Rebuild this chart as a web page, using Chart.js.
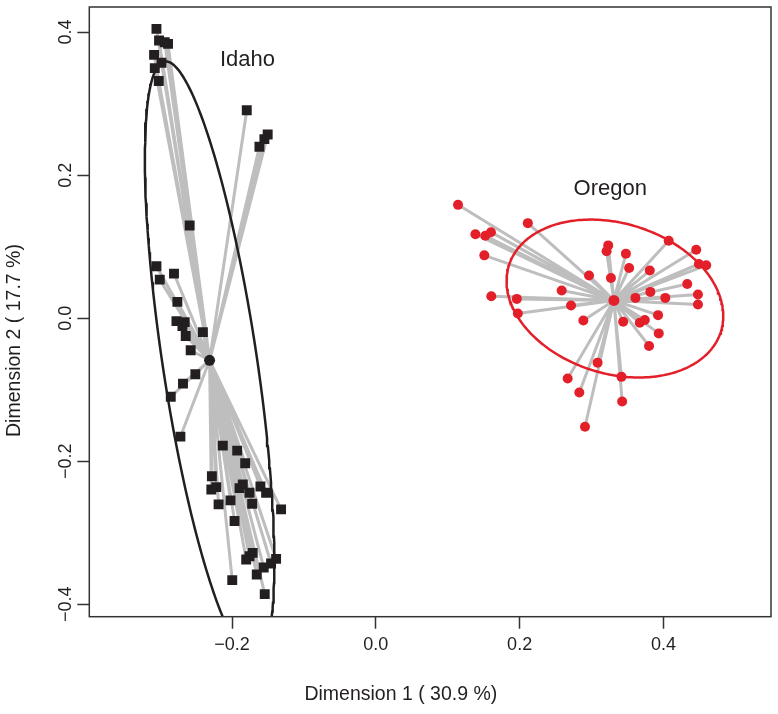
<!DOCTYPE html>
<html><head><meta charset="utf-8">
<script src="https://cdn.jsdelivr.net/npm/chart.js@4/dist/chart.umd.min.js"></script>
<style>html,body{margin:0;padding:0;background:#fff;}</style>
</head><body>
<canvas id="c" width="778" height="714"></canvas>
<script>
// ---- data ----
const idahoX = [-0.3051,-0.3015,-0.2936,-0.2890,-0.3084,-0.2981,-0.3074,-0.3019,-0.1795,-0.1504,-0.1550,-0.1619,-0.2589,-0.3051,-0.2807,-0.3005,-0.2760,-0.2773,-0.2658,-0.2690,-0.2644,-0.2405,-0.2575,-0.2510,-0.2682,-0.2852,-0.2718,-0.2128,-0.1928,-0.1817,-0.2280,-0.2219,-0.2288,-0.1850,-0.1896,-0.1757,-0.1605,-0.1526,-0.2021,-0.2187,-0.1720,-0.1318,-0.1965,-0.1712,-0.1757,-0.1803,-0.1387,-0.1457,-0.1559,-0.1656,-0.1997,-0.1545];
const idahoY = [0.4045,0.3883,0.3859,0.3836,0.3682,0.3571,0.3497,0.3316,0.2908,0.2568,0.2504,0.2397,0.1297,0.0726,0.0624,0.0540,0.0228,-0.0040,-0.0054,-0.0110,-0.0249,-0.0194,-0.0448,-0.0783,-0.0914,-0.1099,-0.1656,-0.1781,-0.1851,-0.2028,-0.2209,-0.2362,-0.2394,-0.2325,-0.2376,-0.2440,-0.2352,-0.2440,-0.2547,-0.2603,-0.2593,-0.2673,-0.2836,-0.3281,-0.3327,-0.3373,-0.3365,-0.3429,-0.3485,-0.3582,-0.3662,-0.3857];
const oregonX = [0.1143,0.2114,0.1385,0.1523,0.1601,0.1509,0.3232,0.3209,0.3478,0.4073,0.4456,0.3523,0.3810,0.4493,0.4595,0.2965,0.3270,0.4331,0.2585,0.3818,0.4480,0.1606,0.1961,0.3611,0.4026,0.4480,0.2715,0.1975,0.3925,0.2886,0.3440,0.3671,0.3741,0.3935,0.3800,0.3084,0.3416,0.2668,0.2830,0.3426,0.2909];
const oregonY = [0.1585,0.1329,0.1175,0.1153,0.1203,0.0879,0.1018,0.0935,0.0903,0.1084,0.0958,0.0702,0.0666,0.0758,0.0740,0.0596,0.0563,0.0479,0.0387,0.0368,0.0331,0.0308,0.0270,0.0284,0.0284,0.0192,0.0178,0.0067,0.0043,-0.0031,-0.0050,-0.0064,-0.0026,-0.0212,-0.0389,-0.0621,-0.0820,-0.0844,-0.1039,-0.1164,-0.1517];
const idahoCentroid = [-0.2312, -0.0588];
const oregonCentroid = [0.3311, 0.0249];
// ellipse: [centerX, centerY, semiMajor, semiMinor, angleDeg]
const idahoEllipse = [-0.2312, -0.0588, 0.4224, 0.0656, 98.5];
const oregonEllipse = [0.3325, 0.0275, 0.1545, 0.1050, -17.5];
const groupNames = ['Idaho', 'Oregon'];
const groupLabelPos = [[-0.1785, 0.3609], [0.326, 0.1812]];
const xTicks = [-0.2, 0.0, 0.2, 0.4];
const yTicks = [-0.4, -0.2, 0.0, 0.2, 0.4];
const xTitle = 'Dimension 1 ( 30.9 %)';
const yTitle = 'Dimension 2 ( 17.7 %)';

// ---- helpers ----
const pts = (xs, ys) => xs.map((x, i) => ({x: x, y: ys[i]}));
function spokes(xs, ys, c) {
  const d = [];
  xs.forEach((x, i) => { d.push({x: x, y: ys[i]}); d.push({x: c[0], y: c[1]}); });
  return d;
}
function ellipse(e) {
  const [cx, cy, a, b, deg] = e;
  const t = deg * Math.PI / 180, d = [];
  for (let k = 0; k <= 240; k++) {
    const s = k / 240 * 2 * Math.PI;
    const u = a * Math.cos(s), v = b * Math.sin(s);
    d.push({x: cx + u * Math.cos(t) - v * Math.sin(t), y: cy + u * Math.sin(t) + v * Math.cos(t)});
  }
  return d;
}
const fmt = v => Number(v).toFixed(1).replace('-', '\u2212');
const FONT = '"Liberation Sans", Helvetica, Arial, sans-serif';
const TXT = '#231f20';
const GREY = '#bebebe';
const RED = '#e3202a';
const BLACK = '#231f20';

const framePlugin = {
  id: 'frame',
  afterDatasetsDraw(chart) {
    const {ctx, chartArea: a, scales} = chart;
    ctx.save();
    ctx.strokeStyle = '#333';
    ctx.lineWidth = 1.5;
    ctx.strokeRect(a.left, a.top, a.right - a.left, a.bottom - a.top);
    ctx.fillStyle = TXT;
    ctx.font = '22px ' + FONT;
    ctx.textAlign = 'center';
    ctx.textBaseline = 'middle';
    groupNames.forEach((n, i) => {
      ctx.fillText(n, scales.x.getPixelForValue(groupLabelPos[i][0]), scales.y.getPixelForValue(groupLabelPos[i][1]));
    });
    ctx.restore();
  },
  afterDraw(chart) {
    const {ctx, chartArea: a} = chart;
    ctx.save();
    ctx.fillStyle = TXT;
    ctx.font = '19.5px ' + FONT;
    ctx.textAlign = 'center';
    ctx.textBaseline = 'middle';
    // axis titles (placed as in the reference, slightly off the plot centre)
    ctx.fillText(xTitle, a.left + (a.right - a.left) * 0.457, 695);
    ctx.translate(15, a.top + (a.bottom - a.top) * 0.547);
    ctx.rotate(-Math.PI / 2);
    ctx.fillText(yTitle, 0, 0);
    ctx.restore();
  }
};

new Chart(document.getElementById('c'), {
  type: 'scatter',
  data: {
    datasets: [
      {data: spokes(idahoX, idahoY, idahoCentroid), showLine: true, borderColor: GREY, borderWidth: 3, pointRadius: 0, borderJoinStyle: 'round', borderCapStyle: 'round', order: 5},
      {data: spokes(oregonX, oregonY, oregonCentroid), showLine: true, borderColor: GREY, borderWidth: 3, pointRadius: 0, borderJoinStyle: 'round', borderCapStyle: 'round', order: 5},
      {data: ellipse(idahoEllipse), showLine: true, borderColor: BLACK, borderWidth: 2.5, pointRadius: 0, order: 4},
      {data: ellipse(oregonEllipse), showLine: true, borderColor: RED, borderWidth: 2.5, pointRadius: 0, order: 4},
      {data: pts(idahoX, idahoY), pointStyle: 'rect', pointRadius: 7, backgroundColor: BLACK, borderWidth: 0, order: 2},
      {data: pts(oregonX, oregonY), pointStyle: 'circle', pointRadius: 5, backgroundColor: RED, borderWidth: 0, order: 2},
      {data: [{x: idahoCentroid[0], y: idahoCentroid[1]}], pointStyle: 'circle', pointRadius: 5.5, backgroundColor: BLACK, borderWidth: 0, order: 1},
      {data: [{x: oregonCentroid[0], y: oregonCentroid[1]}], pointStyle: 'circle', pointRadius: 5.5, backgroundColor: RED, borderWidth: 0, order: 1}
    ]
  },
  options: {
    responsive: false,
    devicePixelRatio: 1,
    animation: false,
    events: [],
    layout: {padding: {top: 4.7, right: 4.7, left: 0, bottom: 0}},
    plugins: {legend: {display: false}, tooltip: {enabled: false}},
    scales: {
      x: {
        type: 'linear', min: -0.3985, max: 0.5496,
        afterBuildTicks: s => { s.ticks = xTicks.map(v => ({value: v})); },
        afterFit: s => { s.height = 97.3; s.paddingLeft = 0; s.paddingRight = 0; },
        ticks: {callback: fmt, color: TXT, font: {family: FONT, size: 18}, padding: 6, maxRotation: 0, autoSkip: false},
        grid: {display: true, drawOnChartArea: false, drawTicks: true, tickLength: 12, tickColor: '#333', tickWidth: 1.5},
        border: {display: false},
        title: {display: false, text: xTitle}
      },
      y: {
        type: 'linear', min: -0.4173, max: 0.4351,
        afterBuildTicks: s => { s.ticks = yTicks.map(v => ({value: v})); },
        afterFit: s => { s.width = 89.3; s.paddingTop = 0; s.paddingBottom = 0; },
        ticks: {callback: fmt, color: TXT, font: {family: FONT, size: 18}, padding: -6, minRotation: 90, maxRotation: 90, crossAlign: 'center', autoSkip: false},
        grid: {display: true, drawOnChartArea: false, drawTicks: true, tickLength: 12, tickColor: '#333', tickWidth: 1.5},
        border: {display: false},
        title: {display: false, text: yTitle}
      }
    }
  },
  plugins: [framePlugin]
});
</script>
</body></html>
